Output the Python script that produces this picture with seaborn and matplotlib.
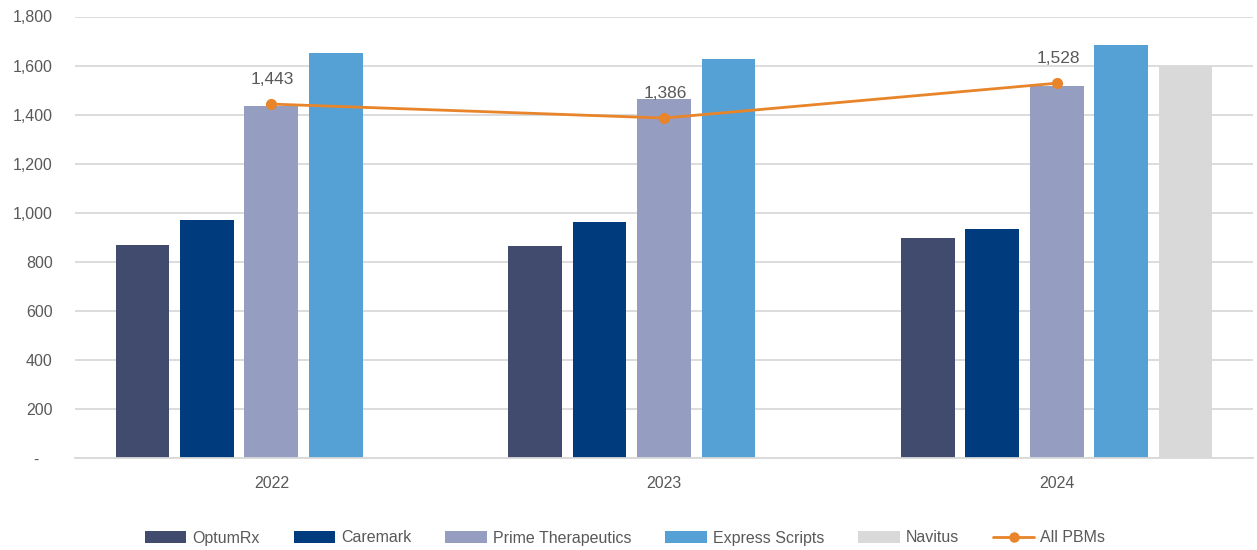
import matplotlib
matplotlib.use("Agg")
import matplotlib.pyplot as plt
import seaborn as sns
import pandas as pd
import numpy as np
from matplotlib.patches import Patch
from matplotlib.lines import Line2D
from matplotlib.ticker import FuncFormatter

# ---- data ----
years = ["2022", "2023", "2024"]
pbms = ["OptumRx", "Caremark", "Prime Therapeutics", "Express Scripts", "Navitus"]
optumrx = [870, 864, 898]
caremark = [971, 962, 935]
prime = [1435, 1463, 1518]
express = [1650, 1628, 1683]
navitus = [None, None, 1599]
all_pbms = [1443, 1386, 1528]
all_pbms_labels = ["1,443", "1,386", "1,528"]
yticks = [0, 200, 400, 600, 800, 1000, 1200, 1400, 1600, 1800]

colors = ["#414B6E", "#003C7D", "#959DC1", "#55A1D5", "#D9D9D9"]
line_color = "#E8842A"
text_color = "#595959"
grid_color = "#D9D9D9"

series = [optumrx, caremark, prime, express, navitus]
rows = []
for name, vals in zip(pbms, series):
    for y, v in zip(years, vals):
        if v is not None:
            rows.append({"Year": y, "PBM": name, "Value": v})
df = pd.DataFrame(rows)

sns.set_theme(style="white")
plt.rcParams["font.family"] = ["Liberation Sans", "DejaVu Sans"]

fig = plt.figure(figsize=(12.57, 5.5), dpi=100)
ax = fig.add_axes([75 / 1257, 92 / 550, (1253 - 75) / 1257, (458 - 16.5) / 550])

sns.barplot(data=df, x="Year", y="Value", hue="PBM", order=years, hue_order=pbms,
            palette=colors, saturation=1, width=0.82, gap=0.165, linewidth=0,
            edgecolor="none", errorbar=None, legend=False, ax=ax, zorder=2)

sns.pointplot(x=years, y=all_pbms, order=years, color=line_color, markers="o",
              markersize=6.5, linewidth=2.0, errorbar=None, ax=ax, zorder=4)

for i, (v, lab) in enumerate(zip(all_pbms, all_pbms_labels)):
    ax.annotate(lab, (i, v), xytext=(1, 12.5), textcoords="offset points",
                ha="center", va="bottom", fontsize=12.5, color=text_color, zorder=5)

ax.set_xlim(-0.5, 2.5)
ax.set_ylim(0, 1800)
ax.set_yticks(yticks)
ax.yaxis.set_major_formatter(FuncFormatter(lambda v, p: "-   " if v == 0 else f"{v:,.0f}"))
ax.grid(axis="y", color=grid_color, linewidth=1.3, zorder=0)
ax.set_axisbelow(True)
for s in ["top", "right", "left"]:
    ax.spines[s].set_visible(False)
ax.spines["bottom"].set_color(grid_color)
ax.spines["bottom"].set_linewidth(1.3)
ax.tick_params(axis="x", length=0, pad=13, labelsize=11.5, labelcolor=text_color)
ax.tick_params(axis="y", length=0, pad=16, labelsize=11.5, labelcolor=text_color)
ax.set_xlabel("")
ax.set_ylabel("")

handles = [Patch(facecolor=c, edgecolor="none") for c in colors]
handles.append(Line2D([0], [0], color=line_color, linewidth=2.0, marker="o", markersize=6.5))
labels = pbms + ["All PBMs"]
leg = fig.legend(handles, labels, loc="center", bbox_to_anchor=(625 / 1257, 1 - 538 / 550),
                 ncol=6, frameon=False, fontsize=11.5, handlelength=2.6, handleheight=0.7,
                 handletextpad=0.35, columnspacing=2.15, labelcolor=text_color)

fig.savefig("out.png", dpi=100)
